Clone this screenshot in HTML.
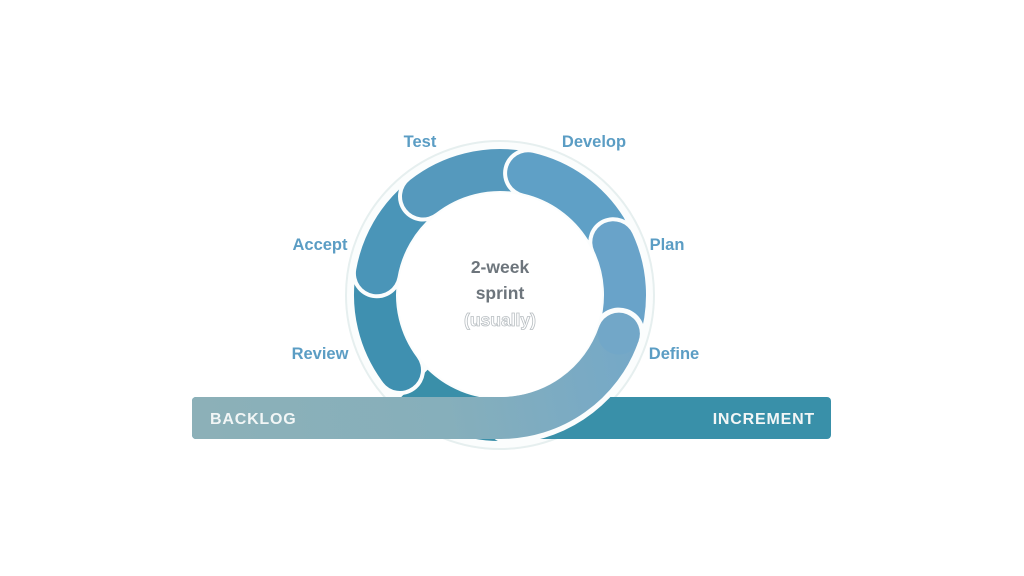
<!DOCTYPE html>
<html><head><meta charset="utf-8"><style>
html,body{margin:0;padding:0;background:#fff;}
svg{display:block;}
text{font-family:"Liberation Sans",sans-serif;font-weight:bold;}
</style></head><body>
<svg width="1024" height="576" viewBox="0 0 1024 576" xmlns="http://www.w3.org/2000/svg">
<defs>
<linearGradient id="dg" gradientUnits="userSpaceOnUse" x1="640" y1="330" x2="192" y2="418">
<stop offset="0" stop-color="#74a8c8"/>
<stop offset="0.45" stop-color="#86afbb"/>
<stop offset="1" stop-color="#8cb0b8"/>
</linearGradient>
</defs>
<circle cx="500" cy="295" r="154" fill="#fbfdfd" stroke="#e6efef" stroke-width="2"/>
<path d="M413 384.9 A125 125 0 0 0 500 420" fill="none" stroke="#3a8fa9" stroke-width="42"/>
<path d="M400 370 A125 125 0 0 1 376.9 273.3" fill="none" stroke="#fbfdfd" stroke-width="50" stroke-linecap="round"/>
<path d="M400 370 A125 125 0 0 1 376.9 273.3" fill="none" stroke="#3f90b0" stroke-width="42" stroke-linecap="round"/>
<path d="M376.9 273.3 A125 125 0 0 1 419.7 199.2" fill="none" stroke="#fbfdfd" stroke-width="50" stroke-linecap="round"/>
<path d="M376.9 273.3 A125 125 0 0 1 419.7 199.2" fill="none" stroke="#4a95b8" stroke-width="42" stroke-linecap="round"/>
<path d="M423 196.5 A125 125 0 0 1 521.7 171.9" fill="none" stroke="#fbfdfd" stroke-width="50" stroke-linecap="round"/>
<path d="M423 196.5 A125 125 0 0 1 521.7 171.9" fill="none" stroke="#5599bd" stroke-width="42" stroke-linecap="round"/>
<path d="M528.1 173.2 A125 125 0 0 1 606 228.8" fill="none" stroke="#fbfdfd" stroke-width="50" stroke-linecap="round"/>
<path d="M528.1 173.2 A125 125 0 0 1 606 228.8" fill="none" stroke="#5fa0c6" stroke-width="42" stroke-linecap="round"/>
<path d="M613.3 242.2 A125 125 0 0 1 618.9 333.6" fill="none" stroke="#fbfdfd" stroke-width="50" stroke-linecap="round"/>
<path d="M613.3 242.2 A125 125 0 0 1 618.9 333.6" fill="none" stroke="#69a3c9" stroke-width="42" stroke-linecap="round"/>
<rect x="192" y="397" width="639" height="42" rx="4" fill="#3990a9"/>
<path d="M618.9 333.6 A125 125 0 0 1 510 418" fill="none" stroke="#fbfdfd" stroke-width="52" stroke-linecap="round"/>
<path d="M618.9 333.6 A125 125 0 0 1 500 418 L196 418" fill="none" stroke="url(#dg)" stroke-width="42" stroke-linecap="butt"/>
<circle cx="618.9" cy="333.6" r="21" fill="#72a7c8"/>
<rect x="192" y="397" width="8" height="42" rx="4" fill="#8cb0b8"/>
<circle cx="500" cy="295" r="102" fill="#ffffff"/>
<g fill="#5b9dc4" font-size="16.5">
<text x="420" y="147" text-anchor="middle">Test</text>
<text x="594" y="147" text-anchor="middle">Develop</text>
<text x="667" y="250" text-anchor="middle">Plan</text>
<text x="320" y="250" text-anchor="middle">Accept</text>
<text x="320" y="359" text-anchor="middle">Review</text>
<text x="674" y="359" text-anchor="middle">Define</text>
</g>
<g font-size="17.5" text-anchor="middle">
<text x="500" y="273" fill="#6d757c">2-week</text>
<text x="500" y="299" fill="#6d757c">sprint</text>
<text x="500" y="326" fill="none" stroke="#b8bec2" stroke-width="0.8">(usually)</text>
</g>
<g fill="#f2f6f6" font-size="16" letter-spacing="0.8">
<text x="210" y="424">BACKLOG</text>
<text x="815" y="424" text-anchor="end">INCREMENT</text>
</g>
</svg>
</body></html>
